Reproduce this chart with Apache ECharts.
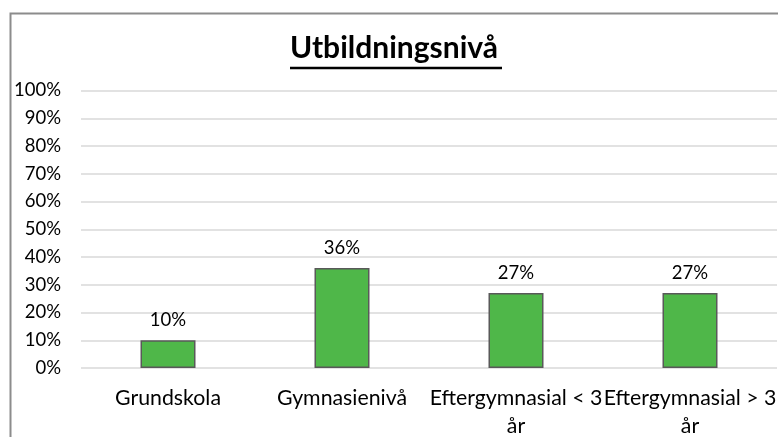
<!DOCTYPE html>
<html lang="sv">
<head>
    <meta charset="UTF-8">
    <script src="https://cdn.jsdelivr.net/npm/echarts@6/dist/echarts.min.js"></script>
    <style>
        body, html {
            margin: 0;
            height: 100%;
            background: #fff;
        }

        #main {
            width: 778px;
            height: 437px;
        }
    </style>
    <title>Utbildningsnivå</title>
</head>
<body>

<div id="main"></div>
<script type="text/javascript">
    const myChart = echarts.init(document.getElementById('main'));

    // data
    const categories = ['Grundskola', 'Gymnasienivå', 'Eftergymnasial < 3 år', 'Eftergymnasial > 3 år'];
    const values = [10, 36, 27, 27];
    const yTicks = {min: 0, max: 100, interval: 10};

    const font = 'Lato, Carlito, Calibri, sans-serif';

    const option = {
        animation: false,
        backgroundColor: '#fff',
        grid: {
            left: 81,
            right: 1,
            top: 90.5,
            bottom: 69,
            outerBoundsMode: 'none'
        },
        graphic: [
            {
                // outer chart border (cut off at right and bottom)
                type: 'rect',
                shape: {x: 10.5, y: 13.5, width: 900, height: 600},
                style: {fill: 'none', stroke: '#8c8c8c', lineWidth: 2},
                silent: true
            },
            {
                type: 'text',
                left: 290,
                top: 33,
                style: {
                    text: 'Utbildningsnivå',
                    font: 'bold 30px ' + font,
                    fill: '#000'
                }
            },
            {
                // title underline
                type: 'line',
                shape: {x1: 290, y1: 68, x2: 502, y2: 68},
                style: {stroke: '#000', lineWidth: 2.5}
            }
        ],
        xAxis: {
            type: 'category',
            data: categories,
            axisLine: {show: false},
            axisTick: {show: false},
            axisLabel: {
                interval: 0,
                margin: 16,
                color: '#000',
                fontFamily: font,
                fontSize: 21.3,
                lineHeight: 28,
                formatter: function (v) {
                    return v.replace(' år', '\når');
                }
            }
        },
        yAxis: {
            type: 'value',
            min: yTicks.min,
            max: yTicks.max,
            interval: yTicks.interval,
            axisLine: {show: false},
            axisTick: {show: false},
            axisLabel: {
                margin: 20,
                color: '#000',
                fontFamily: font,
                fontSize: 18.5,
                formatter: '{value}%'
            },
            splitLine: {
                lineStyle: {color: '#d9d9d9', width: 1.5}
            }
        },
        series: [
            {
                type: 'bar',
                data: values,
                barWidth: 55,
                itemStyle: {
                    color: '#4fb749',
                    borderColor: '#595959',
                    borderWidth: 1.5
                },
                label: {
                    show: true,
                    position: 'top',
                    distance: 11,
                    color: '#000',
                    fontFamily: font,
                    fontSize: 18.5,
                    formatter: '{c}%'
                }
            }
        ]
    };
    myChart.setOption(option);
</script>
</body>
</html>
